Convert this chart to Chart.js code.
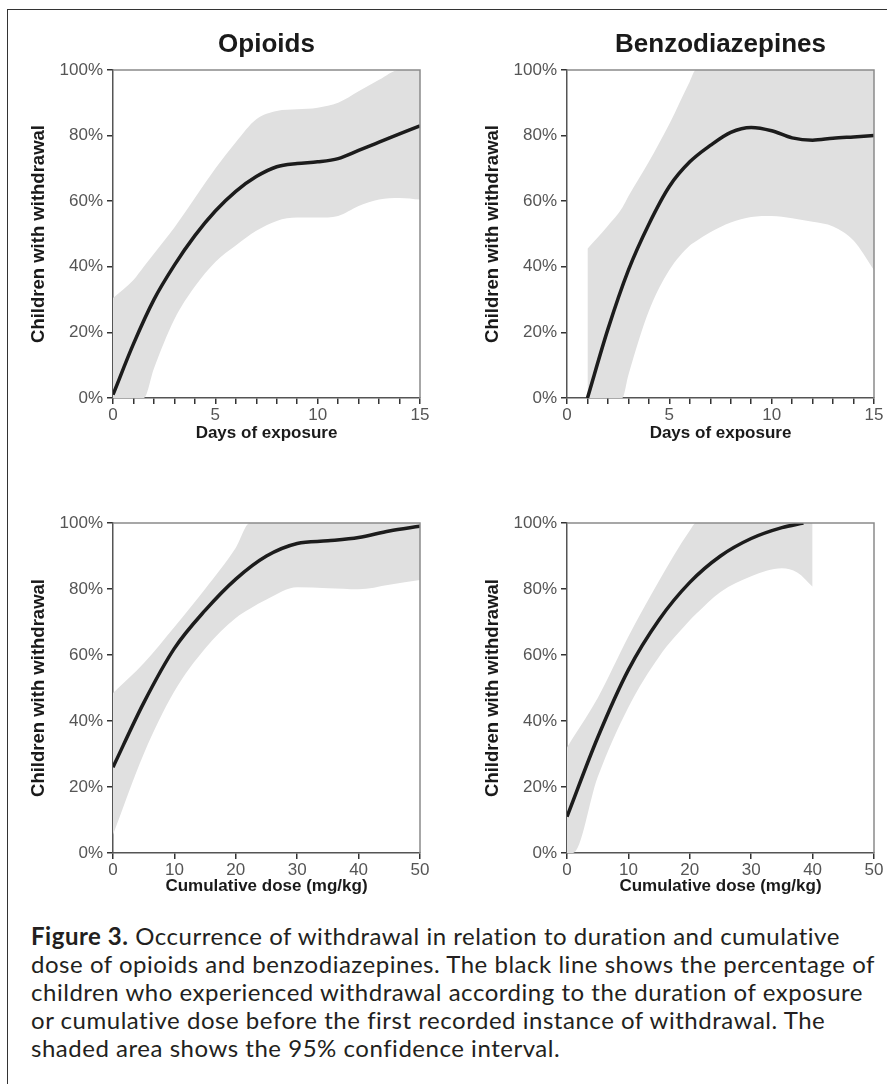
<!DOCTYPE html>
<html>
<head>
<meta charset="utf-8">
<script src="https://cdn.jsdelivr.net/npm/chart.js"></script>
<style>
  body { margin: 0; background: #fff; width: 887px; height: 1084px; position: relative; overflow: hidden;
         font-family: "Liberation Sans", Arial, sans-serif; }
  .frame { position: absolute; left: 7px; top: 9px; width: 900px; height: 1100px;
           border-left: 1.5px solid #333; border-top: 1.5px solid #333; }
  canvas { position: absolute; }
  #caption { position: absolute; left: 31px; top: 922px; font-family: Lato, "Open Sans", sans-serif;
             font-size: 24px; line-height: 28px; color: #231f20; white-space: nowrap; }
  #caption div { display: block; width: max-content; }
  #caption b { font-weight: bold; }
</style>
</head>
<body>
<div class="frame"></div>
<canvas id="c1" width="433" height="450" style="left:0;top:0"></canvas>
<canvas id="c2" width="433" height="450" style="left:454px;top:0"></canvas>
<canvas id="c3" width="433" height="450" style="left:0;top:453px"></canvas>
<canvas id="c4" width="433" height="450" style="left:454px;top:453px"></canvas>
<div id="caption">
  <div><b>Figure 3.</b> Occurrence of withdrawal in relation to duration and cumulative</div>
  <div id="capLine2">dose of opioids and benzodiazepines. The black line shows the percentage of</div>
  <div>children who experienced withdrawal according to the duration of exposure</div>
  <div>or cumulative dose before the first recorded instance of withdrawal. The</div>
  <div>shaded area shows the 95% confidence interval.</div>
</div>
<script>
// opioids, days of exposure
const opDaysX = [0, 1, 2, 3, 4, 5, 6, 7, 8, 9, 10, 11, 12, 13, 14, 15];
const opDaysMean = [1, 16.5, 30, 40.5, 49.5, 57, 63, 67.5, 70.5, 71.5, 72, 73, 75.5, 78, 80.5, 83];
const opDaysCiX = [0, 1, 1.5, 2, 3, 4, 5, 6, 7, 8, 9, 10, 11, 12, 13, 14, 15];
const opDaysHigh = [30.5, 36, 40, 44, 52, 61, 70, 78, 85, 87.5, 88, 88.5, 90, 93.5, 97, 100, 100];
const opDaysLow = [0, 0, 0, 9, 24, 34, 41.5, 46.5, 51, 54, 55, 55, 55.5, 58.5, 60.5, 61, 60.5];

// benzodiazepines, days of exposure
const bzDaysX = [1, 2, 3, 4, 5, 6, 7, 8, 9, 10, 11, 12, 13, 14, 15];
const bzDaysMean = [0, 21, 39, 53, 64.5, 72, 77, 81, 82.5, 81.5, 79.3, 78.6, 79.2, 79.6, 80];
const bzDaysCiX = [1, 2, 2.7, 3, 4, 5, 6, 6.3, 7, 8, 9, 10, 11, 12, 13, 14, 15];
const bzDaysHigh = [45.5, 52.5, 58, 61.5, 72, 83.5, 96.5, 100, 100, 100, 100, 100, 100, 100, 100, 100, 100];
const bzDaysLow = [0, 0, 0, 7, 26.5, 39, 46.5, 47.8, 50.5, 53.5, 55.2, 55.5, 54.8, 53.7, 52.3, 48, 39];

// opioids, cumulative dose
const opDoseX = [0, 5, 10, 15, 20, 25, 30, 35, 40, 45, 50];
const opDoseMean = [26, 45.5, 62, 73.5, 83, 90, 93.8, 94.6, 95.6, 97.6, 99];
const opDoseCiX = [0, 5, 10, 15, 20, 22.3, 25, 30, 35, 40, 45, 50];
const opDoseHigh = [48.5, 57.5, 68.5, 80, 92.5, 100, 100, 100, 100, 100, 100, 100];
const opDoseLow = [5.5, 30, 49, 62, 71.2, 74, 76.8, 80.5, 80.2, 79.9, 81.3, 82.7];

// benzodiazepines, cumulative dose
const bzDoseX = [0, 5, 10, 15, 20, 25, 30, 35, 38.5];
const bzDoseMean = [11, 35, 55.5, 70.7, 82, 90, 95.3, 98.6, 100];
const bzDoseCiX = [0, 1, 5, 10, 15, 20, 21, 25, 30, 35, 37.5, 40];
const bzDoseHigh = [32, 35, 47, 65.6, 82.5, 97.7, 100, 100, 100, 100, 100, 100];
const bzDoseLow = [0, 0, 23, 44.2, 59.5, 70.5, 72.4, 79.1, 83.9, 86.3, 85, 80.7];

const yTicks = ['0%', '20%', '40%', '60%', '80%', '100%'];
const titles = ['Opioids', 'Benzodiazepines'];
const xTitles = ['Days of exposure', 'Cumulative dose (mg/kg)'];

// stretch caption so the longest line matches the printed width
const line2 = document.getElementById('capLine2');
const cap = document.getElementById('caption');
cap.style.letterSpacing = ((844 - line2.getBoundingClientRect().width) / line2.textContent.length) + 'px';

const pts = (xs, ys) => xs.map((x, i) => ({ x: x, y: ys[i] }));

// top and right edges of the plot box
const framePlugin = {
  id: 'frame',
  afterDatasetsDraw(chart) {
    const a = chart.chartArea, c = chart.ctx;
    c.save();
    c.strokeStyle = '#8a8a8a';
    c.lineWidth = 1.5;
    c.beginPath();
    c.moveTo(a.left, a.top);
    c.lineTo(a.right, a.top);
    c.lineTo(a.right, a.bottom);
    c.stroke();
    c.restore();
  }
};

function panel(id, title, xTitle, xMax, step, labelEvery, mx, my, cx, hi, lo) {
  new Chart(document.getElementById(id), {
    type: 'line',
    data: {
      datasets: [
        { data: pts(cx, hi), borderWidth: 0, pointRadius: 0, fill: '+1',
          backgroundColor: '#e0e0e0', cubicInterpolationMode: 'monotone' },
        { data: pts(cx, lo), borderWidth: 0, pointRadius: 0, fill: false,
          cubicInterpolationMode: 'monotone' },
        { data: pts(mx, my), borderColor: '#1c1c1c', borderWidth: 3.5, pointRadius: 0,
          fill: false, cubicInterpolationMode: 'monotone' }
      ]
    },
    options: {
      responsive: false,
      animation: false,
      layout: { padding: { top: title ? 0 : 70, right: 13, left: 0, bottom: 0 } },
      plugins: {
        legend: { display: false },
        tooltip: { enabled: false },
        filler: { drawTime: 'beforeDatasetsDraw' },
        title: {
          display: !!title, text: title, color: '#1a1a1a', fullSize: false,
          font: { family: 'Liberation Sans', size: 26, weight: 'bold' },
          padding: { top: 29, bottom: 9.8 }
        }
      },
      scales: {
        x: {
          type: 'linear', min: 0, max: xMax,
          afterFit: s => { s.height = title ? 52 : 50; },
          border: { display: true, color: '#555', width: 1.5 },
          grid: { drawOnChartArea: false, drawTicks: true, tickLength: 6, tickColor: '#333', lineWidth: 1.5 },
          ticks: {
            stepSize: step, autoSkip: false, maxRotation: 0, padding: 1, color: '#555',
            font: { family: 'Liberation Sans', size: 17 },
            callback: v => (v % labelEvery === 0 ? String(v) : '')
          },
          title: {
            display: true, text: xTitle, color: '#1a1a1a',
            font: { family: 'Liberation Sans', size: 17, weight: 'bold' },
            padding: { top: 0, bottom: 6.5 }
          }
        },
        y: {
          min: 0, max: 100,
          afterFit: s => { s.width = 113; },
          border: { display: true, color: '#555', width: 1.5 },
          grid: { drawOnChartArea: false, drawTicks: true, tickLength: 6, tickColor: '#333', lineWidth: 1.5 },
          ticks: {
            stepSize: 20, padding: 4, color: '#555',
            font: { family: 'Liberation Sans', size: 17 },
            callback: v => yTicks[v / 20]
          },
          title: {
            display: true, text: 'Children with withdrawal', color: '#1a1a1a',
            font: { family: 'Liberation Sans', size: 18.5, weight: 'bold' },
            padding: { top: 27.5, bottom: 0 }
          }
        }
      }
    },
    plugins: [framePlugin]
  });
}

panel('c1', titles[0], xTitles[0], 15, 1, 5, opDaysX, opDaysMean, opDaysCiX, opDaysHigh, opDaysLow);
panel('c2', titles[1], xTitles[0], 15, 1, 5, bzDaysX, bzDaysMean, bzDaysCiX, bzDaysHigh, bzDaysLow);
panel('c3', '', xTitles[1], 50, 10, 10, opDoseX, opDoseMean, opDoseCiX, opDoseHigh, opDoseLow);
panel('c4', '', xTitles[1], 50, 10, 10, bzDoseX, bzDoseMean, bzDoseCiX, bzDoseHigh, bzDoseLow);
</script>
</body>
</html>
